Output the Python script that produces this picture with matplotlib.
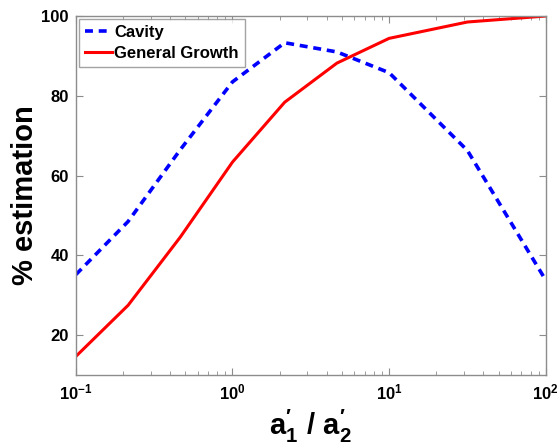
import numpy as np
import matplotlib
matplotlib.use("Agg")
import matplotlib.pyplot as plt
from matplotlib.ticker import FixedLocator, FuncFormatter, LogLocator, NullFormatter

plt.rcParams['font.family'] = ['Liberation Sans', 'DejaVu Sans']
plt.rcParams['mathtext.fontset'] = 'custom'
plt.rcParams['mathtext.rm'] = 'Liberation Sans:bold'
plt.rcParams['mathtext.bf'] = 'Liberation Sans:bold'
plt.rcParams['mathtext.it'] = 'Liberation Sans:bold'

# ---- data ----
ratio = [0.1, 0.2154, 0.4642, 1.0, 2.154, 4.642, 10.0, 31.62, 100.0]
cavity = [35.2, 48.5, 66.5, 83.5, 93.3, 91.0, 85.8, 66.3, 33.8]
growth = [14.7, 27.5, 44.6, 63.4, 78.4, 88.2, 94.4, 98.5, 100.0]

fig = plt.figure(figsize=(5.58, 4.45), dpi=100)
ax = fig.add_axes([0.136, 0.157, 0.842, 0.807])

ax.plot(ratio, cavity, "--", color="#0000ff", lw=2.6, dashes=(2.2, 1.6), label="Cavity")
ax.plot(ratio, growth, "-", color="#ff0000", lw=2.2, label="General Growth")

ax.set_xscale("log")
ax.set_xlim(0.1, 100); ax.set_ylim(10, 100)
ax.xaxis.set_major_locator(FixedLocator([0.1, 1, 10, 100]))
ax.xaxis.set_minor_locator(LogLocator(base=10, subs=np.arange(2, 10)))
ax.xaxis.set_minor_formatter(NullFormatter())
ax.xaxis.set_major_formatter(FuncFormatter(
    lambda v, p: r"$\mathbf{10^{%d}}$" % int(round(np.log10(v)))))
ax.set_yticks([20, 40, 60, 80, 100])

for s in ax.spines.values():
    s.set_color("#8c8c8c"); s.set_linewidth(1.0)
ax.tick_params(which="both", direction="in", top=True, right=True, color="#8c8c8c")
ax.tick_params(which="major", length=5, labelsize=12, pad=5)
ax.tick_params(which="minor", length=3)
for t in ax.get_yticklabels(): t.set_fontweight("bold")

ax.set_ylabel("% estimation", fontsize=21, fontweight="bold", labelpad=2)
ax.set_xlabel(r"$\mathbf{a}^{\prime}_{\mathbf{1}}\ /\ \mathbf{a}^{\prime}_{\mathbf{2}}$",
              fontsize=21, labelpad=4)

leg = ax.legend(loc="upper left", prop={"weight": "bold", "size": 12},
                fancybox=False, borderaxespad=0.2, handlelength=1.6, handletextpad=0.15,
                borderpad=0.35, labelspacing=0.35)
leg.get_frame().set_edgecolor("#8c8c8c"); leg.get_frame().set_linewidth(1.0)

fig.savefig("out.png", dpi=100)
